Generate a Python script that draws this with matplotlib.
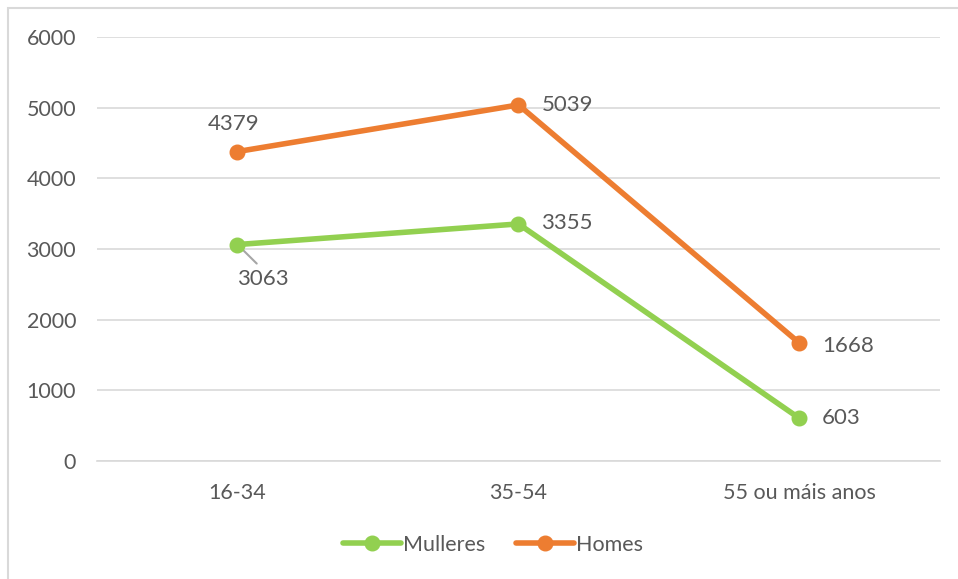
import matplotlib
matplotlib.use("Agg")
import matplotlib.pyplot as plt
from matplotlib.patches import Rectangle

categories = ["16-34", "35-54", "55 ou máis anos"]
mulleres = [3063, 3355, 603]
homes = [4379, 5039, 1668]
yticks = [0, 1000, 2000, 3000, 4000, 5000, 6000]

plt.rcParams['font.family'] = ['Lato', 'DejaVu Sans']
txt = '#595959'
green = '#92D050'
orange = '#ED7D31'

fig = plt.figure(figsize=(9.58, 5.79), dpi=100)
ax = fig.add_axes([97/958, 1-461/579, (940-97)/958, (461-37)/579])

x = list(range(len(categories)))
ax.plot(x, mulleres, color=green, lw=4, marker='o', ms=10.5, label='Mulleres', solid_capstyle='round', zorder=3)
ax.plot(x, homes, color=orange, lw=4, marker='o', ms=10.5, label='Homes', solid_capstyle='round', zorder=3)

ax.set_xlim(-0.5, 2.5)
ax.set_ylim(0, 6000)
ax.set_yticks(yticks)
ax.set_yticklabels([str(v) for v in yticks])
ax.set_xticks(x)
ax.set_xticklabels(categories)
ax.grid(axis='y', color='#D9D9D9', lw=1.2)
ax.set_axisbelow(True)
for s in ['top', 'right', 'left']:
    ax.spines[s].set_visible(False)
ax.spines['bottom'].set_color('#D9D9D9')
ax.spines['bottom'].set_linewidth(1.2)
ax.tick_params(axis='both', length=0, labelsize=15.5, labelcolor=txt)
ax.tick_params(axis='y', pad=15)
ax.tick_params(axis='x', pad=16)

fs = 16
# Homes labels
ax.annotate(str(homes[0]), (0, homes[0]), xytext=(-3, 20), textcoords='offset points', ha='center', va='center', fontsize=fs, color=txt)
ax.annotate(str(homes[1]), (1, homes[1]), xytext=(35, 0), textcoords='offset points', ha='center', va='center', fontsize=fs, color=txt)
ax.annotate(str(homes[2]), (2, homes[2]), xytext=(35, -2), textcoords='offset points', ha='center', va='center', fontsize=fs, color=txt)
# Mulleres labels
ax.annotate(str(mulleres[0]), (0, mulleres[0]), xytext=(18, -25), textcoords='offset points', ha='center', va='center', fontsize=fs, color=txt,
            arrowprops=dict(arrowstyle='-', color='#A6A6A6', lw=1.5, shrinkA=3, shrinkB=0, relpos=(0.5, 1.0)), zorder=2)
ax.annotate(str(mulleres[1]), (1, mulleres[1]), xytext=(35, 1), textcoords='offset points', ha='center', va='center', fontsize=fs, color=txt)
ax.annotate(str(mulleres[2]), (2, mulleres[2]), xytext=(30, 0), textcoords='offset points', ha='center', va='center', fontsize=fs, color=txt)

leg = fig.legend(loc='center', bbox_to_anchor=(493/958, 1-545/579), ncol=2, frameon=False,
                 fontsize=15.5, labelcolor=txt, handlelength=2.7, columnspacing=1.4, handletextpad=0.1)

fig.patches.append(Rectangle((8/958, -0.1), 1.2, 1-8/579+0.1, transform=fig.transFigure,
                             fill=False, edgecolor='#D9D9D9', lw=1.5))

fig.savefig('out.png', dpi=100)
